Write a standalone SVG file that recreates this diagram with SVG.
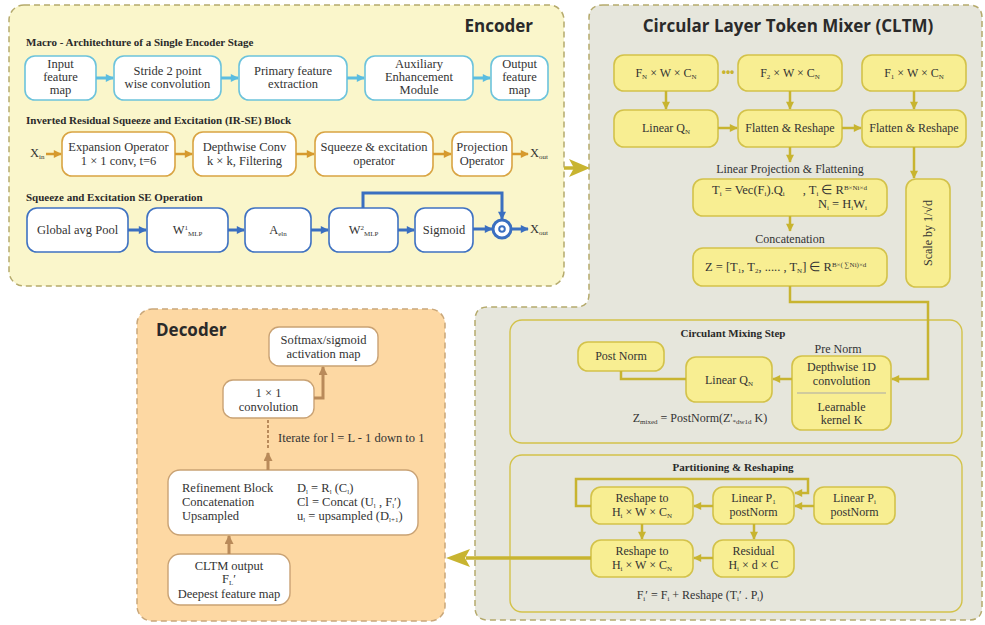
<svg xmlns="http://www.w3.org/2000/svg" width="985" height="625" viewBox="0 0 985 625">
<defs>
<style>
.t{font-family:"Liberation Serif","Times New Roman",serif;font-size:12.5px;fill:#333}
.tc{font-family:"Liberation Serif","Times New Roman",serif;font-size:12px;fill:#333;text-anchor:middle}
.hd{font-family:"Liberation Serif","Times New Roman",serif;font-size:11px;font-weight:bold;fill:#2a2a2a}
.ttl{font-family:"Open Sans","DejaVu Sans",sans-serif;font-size:17px;font-weight:bold;fill:#2a2a2a}
.m{text-anchor:middle}
.sub{font-size:7px;baseline-shift:-2px}
.sup{font-size:7px;baseline-shift:4px}
.cyan{fill:#fff;stroke:#6cc3dc;stroke-width:1.6}
.org{fill:#fff;stroke:#d9a443;stroke-width:1.6}
.blu{fill:#fff;stroke:#3f72c2;stroke-width:1.6}
.yel{fill:#f8ee92;stroke:#d3c24a;stroke-width:1.6}
.dec{fill:#fff;stroke:#c9a274;stroke-width:1.4}
.ca{fill:none;stroke:#5bbde0;stroke-width:3}
.oa{fill:none;stroke:#d69a2e;stroke-width:2.5}
.ba{fill:none;stroke:#3a6fc0;stroke-width:3}
.ya{fill:none;stroke:#c8b430;stroke-width:2.5}
.da{fill:none;stroke:#b98a5a;stroke-width:3}
</style>
<marker id="mc" viewBox="0 0 10 10" refX="9" refY="5" markerWidth="9" markerHeight="8" markerUnits="userSpaceOnUse" orient="auto"><path d="M0,0 L10,5 L0,10 Z" fill="#5bbde0"/></marker>
<marker id="mo" viewBox="0 0 10 10" refX="9" refY="5" markerWidth="9" markerHeight="8" markerUnits="userSpaceOnUse" orient="auto"><path d="M0,0 L10,5 L0,10 Z" fill="#d69a2e"/></marker>
<marker id="mb" viewBox="0 0 10 10" refX="9" refY="5" markerWidth="9" markerHeight="8" markerUnits="userSpaceOnUse" orient="auto"><path d="M0,0 L10,5 L0,10 Z" fill="#3a6fc0"/></marker>
<marker id="my" viewBox="0 0 10 10" refX="9" refY="5" markerWidth="9" markerHeight="8" markerUnits="userSpaceOnUse" orient="auto"><path d="M0,0 L10,5 L0,10 Z" fill="#c8b430"/></marker>
<marker id="md" viewBox="0 0 10 10" refX="9" refY="5" markerWidth="10" markerHeight="9" markerUnits="userSpaceOnUse" orient="auto"><path d="M0,0 L10,5 L0,10 Z" fill="#b98a5a"/></marker>
</defs>
<rect width="985" height="625" fill="#fff"/>

<!-- panels -->
<g id="encoder-panel">
<rect x="9" y="5" width="555" height="281" rx="15" fill="#faf6cb" stroke="#b5aa6c" stroke-width="1.5" stroke-dasharray="6,4"/>
<text class="ttl" x="533" y="32" text-anchor="end">Encoder</text>
</g>
<g id="cltm-panel">
<path d="M603 5 H969 Q982 5 982 18 V607 Q982 620 969 620 H488 Q475 620 475 607 V320 Q475 307 488 307 H576 Q589 307 589 294 V18 Q589 5 603 5 Z" fill="#e6e6dc" stroke="#b5aa6c" stroke-width="1.5" stroke-dasharray="6,4"/>
<text class="ttl m" x="788" y="32">Circular Layer Token Mixer (CLTM)</text>
</g>
<g id="decoder-panel">
<rect x="137" y="309" width="308" height="312" rx="15" fill="#fdd8a3" stroke="#c9a77a" stroke-width="1.5" stroke-dasharray="6,4"/>
<text class="ttl" x="156" y="336">Decoder</text>
</g>

<!-- encoder headings -->
<text class="hd" x="26" y="46">Macro - Architechture of a Single Encoder Stage</text>
<text class="hd" x="26" y="124">Inverted Residual Squeeze and Excitation (IR-SE) Block</text>
<text class="hd" x="26" y="201">Squeeze and Excitation SE Operation</text>

<!-- encoder macro row -->
<g id="input-feature-map"><rect class="cyan" x="25" y="56" width="71" height="44" rx="10"/>
<text class="t m" x="60.5" y="68">Input</text><text class="t m" x="60.5" y="81">feature</text><text class="t m" x="60.5" y="94">map</text></g>
<g id="stride-conv"><rect class="cyan" x="114" y="56" width="107" height="44" rx="10"/>
<text class="t m" x="167.5" y="75">Stride 2 point</text><text class="t m" x="167.5" y="88">wise convolution</text></g>
<g id="primary-feature"><rect class="cyan" x="239" y="56" width="108" height="44" rx="10"/>
<text class="t m" x="293" y="75">Primary feature</text><text class="t m" x="293" y="88">extraction</text></g>
<g id="aux-module"><rect class="cyan" x="365" y="56" width="108" height="44" rx="10"/>
<text class="t m" x="419" y="68">Auxiliary</text><text class="t m" x="419" y="81">Enhancement</text><text class="t m" x="419" y="94">Module</text></g>
<g id="output-feature-map"><rect class="cyan" x="491" y="56" width="57" height="44" rx="10"/>
<text class="t m" x="519.5" y="68">Output</text><text class="t m" x="519.5" y="81">feature</text><text class="t m" x="519.5" y="94">map</text></g>

<!-- IR-SE row -->
<text class="t" x="30" y="157">X<tspan class="sub">in</tspan></text>
<g id="expansion-op"><rect class="org" x="62" y="132" width="113" height="44" rx="10"/>
<text class="t m" x="118.5" y="151">Expansion Operator</text><text class="t m" x="118.5" y="165">1 × 1 conv, t=6</text></g>
<g id="depthwise-conv"><rect class="org" x="193" y="132" width="103" height="44" rx="10"/>
<text class="t m" x="244.5" y="151">Depthwise Conv</text><text class="t m" x="244.5" y="165">k × k, Filtering</text></g>
<g id="se-operator"><rect class="org" x="315" y="132" width="118" height="44" rx="10"/>
<text class="t m" x="374" y="151">Squeeze &amp; excitation</text><text class="t m" x="374" y="165">operator</text></g>
<g id="projection-op"><rect class="org" x="452" y="132" width="60" height="44" rx="10"/>
<text class="t m" x="482" y="151">Projection</text><text class="t m" x="482" y="165">Operator</text></g>
<text class="t" x="530" y="157">X<tspan class="sub">out</tspan></text>

<!-- SE row -->
<g id="global-avg-pool"><rect class="blu" x="27" y="208" width="101" height="44" rx="10"/>
<text class="t m" x="77.5" y="234">Global avg Pool</text></g>
<g id="w1-mlp"><rect class="blu" x="147" y="208" width="81" height="44" rx="10"/>
<text class="t m" x="187.5" y="234">W<tspan class="sup">1</tspan><tspan class="sub">MLP</tspan></text></g>
<g id="a-eln"><rect class="blu" x="245" y="208" width="66" height="44" rx="10"/>
<text class="t m" x="278" y="234">A<tspan class="sub">eln</tspan></text></g>
<g id="w2-mlp"><rect class="blu" x="329" y="208" width="69" height="44" rx="10"/>
<text class="t m" x="363.5" y="234">W<tspan class="sup">2</tspan><tspan class="sub">MLP</tspan></text></g>
<g id="sigmoid"><rect class="blu" x="415" y="208" width="58" height="44" rx="10"/>
<text class="t m" x="444" y="234">Sigmoid</text></g>
<g id="odot"><circle cx="502" cy="229" r="9" fill="#fff" stroke="#3a6fc0" stroke-width="3"/><circle cx="502" cy="229" r="2.8" fill="none" stroke="#3a6fc0" stroke-width="2"/></g>
<text class="t" x="530" y="233">X<tspan class="sub">out</tspan></text>

<!-- CLTM nodes -->
<g id="fn"><rect class="yel" x="614" y="55" width="104" height="36" rx="10"/>
<text class="tc" x="666" y="77">F<tspan class="sub">N</tspan> × W × C<tspan class="sub">N</tspan></text></g>
<text x="728" y="76" font-family="Liberation Sans,sans-serif" font-size="12" font-weight="bold" fill="#c8b430" text-anchor="middle">•••</text>
<g id="f2"><rect class="yel" x="738" y="55" width="104" height="36" rx="10"/>
<text class="tc" x="790" y="77">F<tspan class="sub">2</tspan> × W × C<tspan class="sub">N</tspan></text></g>
<g id="f1"><rect class="yel" x="862" y="55" width="104" height="36" rx="10"/>
<text class="tc" x="914" y="77">F<tspan class="sub">1</tspan> × W × C<tspan class="sub">N</tspan></text></g>
<g id="linear-qn-top"><rect class="yel" x="614" y="110" width="104" height="37" rx="10"/>
<text class="tc" x="666" y="132">Linear Q<tspan class="sub">N</tspan></text></g>
<g id="flatten-2"><rect class="yel" x="738" y="110" width="104" height="37" rx="10"/>
<text class="tc" x="790" y="132">Flatten &amp; Reshape</text></g>
<g id="flatten-1"><rect class="yel" x="862" y="110" width="104" height="37" rx="10"/>
<text class="tc" x="914" y="132">Flatten &amp; Reshape</text></g>
<text class="tc" x="790" y="173">Linear Projection &amp; Flattening</text>
<g id="ti-box"><rect class="yel" x="693" y="179" width="194" height="37" rx="10"/>
<text class="t" x="712" y="194" font-size="12">T<tspan class="sub">i</tspan> = Vec(F<tspan class="sub">i</tspan>).Q<tspan class="sub">i</tspan></text>
<text class="t" x="867" y="194" font-size="12" text-anchor="end">, T<tspan class="sub">i</tspan> ∈ R<tspan class="sup">B×Ni×d</tspan></text>
<text class="t" x="867" y="208" font-size="12" text-anchor="end">N<tspan class="sub">i</tspan> = H<tspan class="sub">i</tspan>W<tspan class="sub">i</tspan></text></g>
<text class="tc" x="790" y="243">Concatenation</text>
<g id="z-box"><rect class="yel" x="693" y="248" width="194" height="38" rx="10"/>
<text class="t" x="705" y="271" font-size="12">Z = [T<tspan class="sub">1</tspan>, T<tspan class="sub">2</tspan>, ..... , T<tspan class="sub">N</tspan>] ∈ R<tspan class="sup">B×( ∑Ni)×d</tspan></text></g>
<g id="scale-box"><rect class="yel" x="906" y="179" width="44" height="108" rx="10"/>
<text class="tc" x="0" y="0" transform="translate(932,233) rotate(-90)">Scale by 1/√d</text></g>

<!-- Circulant mixing -->
<g id="circulant-panel"><rect x="510" y="320" width="452" height="123" rx="12" fill="none" stroke="#d3c24a" stroke-width="1.4"/>
<text class="hd m" x="733" y="337" font-size="11.5">Circulant Mixing Step</text></g>
<g id="post-norm"><rect class="yel" x="578" y="342" width="86" height="29" rx="10"/>
<text class="tc" x="621" y="360">Post Norm</text></g>
<g id="linear-qn-mix"><rect class="yel" x="686" y="357" width="86" height="45" rx="10"/>
<text class="tc" x="729" y="384">Linear Q<tspan class="sub">N</tspan></text></g>
<text class="tc" x="838" y="353">Pre Norm</text>
<g id="depthwise-1d"><rect class="yel" x="792" y="356" width="99" height="74" rx="10"/>
<text class="tc" x="841.5" y="371">Depthwise 1D</text><text class="tc" x="841.5" y="385">convolution</text>
<line x1="797" y1="393" x2="886" y2="393" stroke="#a8a8a8" stroke-width="1"/>
<text class="tc" x="841.5" y="411">Learnable</text><text class="tc" x="841.5" y="424">kernel K</text></g>
<text class="tc" x="700" y="422">Z<tspan class="sub">mixed</tspan> = PostNorm(Z'<tspan class="sub">*dw1d</tspan> K)</text>

<!-- Partitioning -->
<g id="partition-panel"><rect x="510" y="455" width="452" height="157" rx="12" fill="none" stroke="#d3c24a" stroke-width="1.4"/>
<text class="hd m" x="733" y="471" font-size="11.5">Partitioning &amp; Reshaping</text></g>
<g id="reshape-top"><rect class="yel" x="591" y="487" width="102" height="37" rx="10"/>
<text class="tc" x="642" y="502">Reshape to</text><text class="tc" x="642" y="516">H<tspan class="sub">i</tspan> × W × C<tspan class="sub">N</tspan></text></g>
<g id="linear-p1"><rect class="yel" x="713" y="487" width="81" height="37" rx="10"/>
<text class="tc" x="753.5" y="502">Linear P<tspan class="sub">1</tspan></text><text class="tc" x="753.5" y="516">postNorm</text></g>
<g id="linear-pi"><rect class="yel" x="814" y="487" width="81" height="37" rx="10"/>
<text class="tc" x="854.5" y="502">Linear P<tspan class="sub">i</tspan></text><text class="tc" x="854.5" y="516">postNorm</text></g>
<g id="reshape-bottom"><rect class="yel" x="591" y="540" width="102" height="37" rx="10"/>
<text class="tc" x="642" y="555">Reshape to</text><text class="tc" x="642" y="569">H<tspan class="sub">i</tspan> × W × C<tspan class="sub">N</tspan></text></g>
<g id="residual"><rect class="yel" x="713" y="540" width="81" height="37" rx="10"/>
<text class="tc" x="753.5" y="555">Residual</text><text class="tc" x="753.5" y="569">H<tspan class="sub">i</tspan> × d × C</text></g>
<text class="tc" x="700" y="599">F<tspan class="sub">i</tspan>′ = F<tspan class="sub">i</tspan> + Reshape (T<tspan class="sub">i</tspan>′ . P<tspan class="sub">i</tspan>)</text>

<!-- Decoder nodes -->
<g id="softmax"><rect class="dec" x="269" y="327" width="109" height="39" rx="10"/>
<text class="t m" x="323.5" y="344">Softmax/sigmoid</text><text class="t m" x="323.5" y="358">activation map</text></g>
<g id="conv1x1"><rect class="dec" x="223" y="380" width="91" height="38" rx="10"/>
<text class="t m" x="268.5" y="397">1 × 1</text><text class="t m" x="268.5" y="411">convolution</text></g>
<text class="t" x="278" y="442">Iterate for l = L - 1 down to 1</text>
<g id="refinement"><rect class="dec" x="168" y="470" width="250" height="65" rx="12"/>
<text class="t" x="182" y="492">Refinement Block</text><text class="t" x="182" y="506">Concatenation</text><text class="t" x="182" y="520">Upsampled</text>
<text class="t" x="297" y="492">D<tspan class="sub">l</tspan> = R<tspan class="sub">l</tspan> (C<tspan class="sub">l</tspan>)</text>
<text class="t" x="297" y="506">Cl = Concat (U<tspan class="sub">l</tspan> , F<tspan class="sub">l</tspan>′)</text>
<text class="t" x="297" y="520">u<tspan class="sub">l</tspan> = upsampled (D<tspan class="sub">l+1</tspan>)</text></g>
<g id="cltm-output"><rect class="dec" x="168" y="554" width="122" height="51" rx="12"/>
<text class="t m" x="229" y="570">CLTM output</text><text class="t m" x="229" y="583">F<tspan class="sub">L</tspan>′</text><text class="t m" x="229" y="598">Deepest feature map</text></g>

<!-- connectors -->
<g id="connectors">
<path class="ca" d="M96 78 H113" marker-end="url(#mc)"/>
<path class="ca" d="M221 78 H238" marker-end="url(#mc)"/>
<path class="ca" d="M347 78 H364" marker-end="url(#mc)"/>
<path class="ca" d="M473 78 H490" marker-end="url(#mc)"/>

<path class="oa" d="M46 154 H61" marker-end="url(#mo)"/>
<path class="oa" d="M175 154 H192" marker-end="url(#mo)"/>
<path class="oa" d="M296 154 H314" marker-end="url(#mo)"/>
<path class="oa" d="M433 154 H451" marker-end="url(#mo)"/>
<path class="oa" d="M512 154 H528" marker-end="url(#mo)"/>

<path class="ba" d="M128 230 H146" marker-end="url(#mb)"/>
<path class="ba" d="M228 230 H244" marker-end="url(#mb)"/>
<path class="ba" d="M311 230 H328" marker-end="url(#mb)"/>
<path class="ba" d="M398 230 H414" marker-end="url(#mb)"/>
<path class="ba" d="M473 229 H492" marker-end="url(#mb)"/>
<path class="ba" d="M511 229 H528" marker-end="url(#mb)"/>
<path class="ba" d="M363 208 V193 H502 V219" marker-end="url(#mb)"/>

<path d="M564 168 H575" stroke="#c8b430" stroke-width="3.5" fill="none"/>
<polygon points="569,159 590,168 569,177 574,168" fill="#c8b430"/>

<path class="ya" d="M666 91 V109" marker-end="url(#my)"/>
<path class="ya" d="M790 91 V109" marker-end="url(#my)"/>
<path class="ya" d="M914 91 V109" marker-end="url(#my)"/>
<path class="ya" d="M718 128 H737" marker-end="url(#my)"/>
<path class="ya" d="M842 128 H861" marker-end="url(#my)"/>
<path class="ya" d="M790 147 V162" marker-end="url(#my)"/>
<path class="ya" d="M914 147 V178" marker-end="url(#my)"/>
<path class="ya" d="M790 216 V231" marker-end="url(#my)"/>
<path class="ya" d="M790 286 V302 H928 V379 H892" marker-end="url(#my)"/>
<path class="ya" d="M792 379 H773" marker-end="url(#my)"/>
<path class="ya" d="M686 379 H621 V371"/>

<path class="ya" d="M814 506 H795" marker-end="url(#my)"/>
<path class="ya" d="M713 506 H694" marker-end="url(#my)"/>
<path class="ya" d="M591 506 H576 V479 H808 V493 H795" marker-end="url(#my)"/>
<path class="ya" d="M642 524 V539" marker-end="url(#my)"/>
<path class="ya" d="M754 524 V539" marker-end="url(#my)"/>
<path class="ya" d="M713 558 H694" marker-end="url(#my)"/>
<path d="M591 558 H466" stroke="#c8b430" stroke-width="3.5" fill="none"/>
<polygon points="470,549 446,558 470,567 465,558" fill="#c8b430"/>

<path class="da" d="M229 554 V536" marker-end="url(#md)"/>
<path class="da" d="M268 470 V453" marker-end="url(#md)"/>
<path d="M268 448 V418" stroke="#b98a5a" stroke-width="2" stroke-dasharray="3,2" fill="none"/>
<path class="da" d="M314 398 H323 V367" marker-end="url(#md)"/>
</g>
</svg>
